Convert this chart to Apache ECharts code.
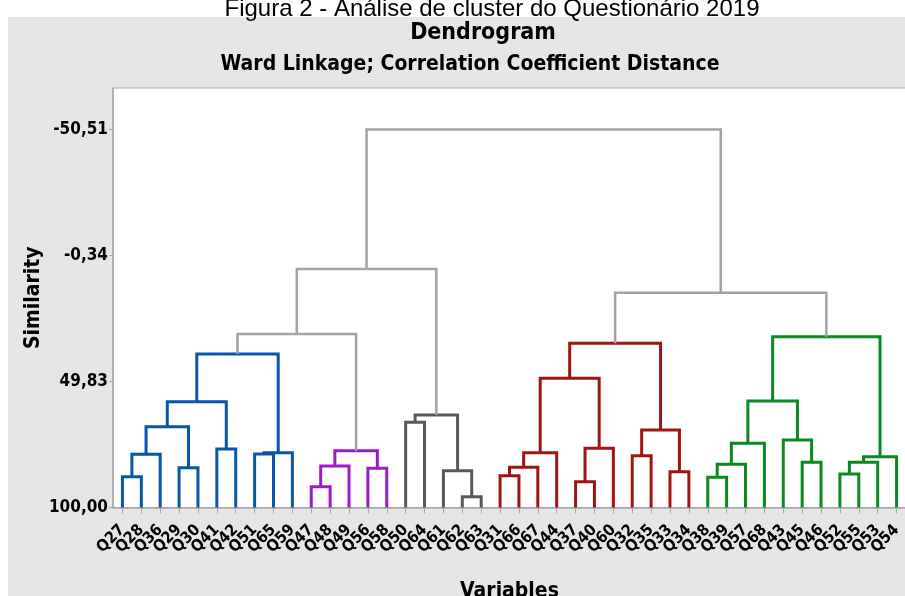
<!DOCTYPE html>
<html><head><meta charset="utf-8">
<script src="https://cdn.jsdelivr.net/npm/echarts@6/dist/echarts.min.js"></script>
<style>html,body{margin:0;padding:0;background:#fff}#c{width:905px;height:596px}</style>
</head><body><div id="c"></div>
<script>
// ---------- data ----------
const variables = ['Q27','Q28','Q36','Q29','Q30','Q41','Q42','Q51','Q65','Q59',
  'Q47','Q48','Q49','Q56','Q58','Q50','Q64','Q61','Q62','Q63',
  'Q31','Q66','Q67','Q44','Q37','Q40','Q60','Q32','Q35','Q33','Q34',
  'Q38','Q39','Q57','Q68','Q43','Q45','Q46','Q52','Q55','Q53','Q54'];
// merge k joins mergeLeft[k] and mergeRight[k]; a string is a variable, a number is an earlier merge
const mergeLeft  = ['Q27',0,'Q29',1,'Q41',3,'Q51',6,5,'Q47',9,'Q56',10,'Q50','Q62','Q61',13,
  'Q31',17,18,'Q37',20,19,'Q32','Q33',23,22,'Q38',27,28,'Q45','Q43',29,'Q52',33,34,32,8,37,26,38];
const mergeRight = ['Q28','Q36','Q30',2,'Q42',4,'Q65','Q59',7,'Q48','Q49','Q58',11,'Q64','Q63',14,15,
  'Q66','Q67','Q44','Q40','Q60',21,'Q35','Q34',24,25,'Q39','Q57','Q68','Q46',30,31,'Q55','Q53','Q54',35,12,16,36,39];
const similarity = [87.74,78.83,84.16,67.84,76.72,57.89,78.71,78.19,38.91,91.72,83.48,84.40,77.40,66.09,95.70,85.35,63.19,
  87.34,84.00,78.19,89.73,76.44,48.58,79.39,85.75,69.16,34.65,87.98,82.81,74.45,82.01,73.14,57.62,86.67,82.01,79.78,32.03,
  30.95,5.08,14.52,-50.51];
const yTicks = [100.00, 49.83, -0.34, -50.51];
const numberOfClusters = 5;

// ---------- styles ----------
const clusterColors = ['#0756A8','#9A1BC9','#595959','#A01414','#0A8A22'];
const linkColor = '#A3A3A3';
const condensed = "'DejaVu Sans Condensed','DejaVu Sans',sans-serif";

// ---------- tree layout (in leaf-index / distance units) ----------
const nM = similarity.length;
const nodeX = [], nodeD = [];
function ref(r){
  if (typeof r === 'string') return {x: variables.indexOf(r), d: 0, m: -1};
  return {x: nodeX[r], d: nodeD[r], m: r};
}
const parent = new Array(nM).fill(-1);
for (let k = 0; k < nM; k++) {
  const a = ref(mergeLeft[k]), b = ref(mergeRight[k]);
  nodeX[k] = (a.x + b.x) / 2;
  nodeD[k] = 100 - similarity[k];
  if (a.m >= 0) parent[a.m] = k;
  if (b.m >= 0) parent[b.m] = k;
}
const order = similarity.map((s,i)=>i).sort((i,j)=>similarity[i]-similarity[j]);
const isLink = new Array(nM).fill(false);
order.slice(0, numberOfClusters - 1).forEach(i => isLink[i] = true);
function rootOf(k){ while (parent[k] >= 0 && !isLink[parent[k]]) k = parent[k]; return k; }
const roots = [];
for (let k = 0; k < nM; k++) if (!isLink[k]) { const r = rootOf(k); if (roots.indexOf(r) < 0) roots.push(r); }
roots.sort((a,b)=>nodeX[a]-nodeX[b]);
const segData = [];
for (let k = 0; k < nM; k++) {
  const a = ref(mergeLeft[k]), b = ref(mergeRight[k]);
  const c = isLink[k] ? -1 : roots.indexOf(rootOf(k));
  segData.push([a.x, a.d, b.x, b.d, nodeD[k], c]);
}

const tickStep = yTicks[0] - yTicks[1];
const dTop = 167;

const chart = echarts.init(document.getElementById('c'), null, {renderer:'canvas'});
chart.setOption({
  backgroundColor: '#ffffff',
  animation: false,
  graphic: [{type:'rect', left: 8, top: 17, shape:{width: 897, height: 579}, style:{fill:'#E6E6E6'}, z: -10, silent: true}],
  title: [
    {text: 'Figura 2 - Análise de cluster do Questionário 2019', left: 492, textAlign: 'center', top: -3, padding: 0,
     textStyle: {fontFamily: "'Liberation Sans',Arial,sans-serif", fontWeight: 'normal', fontSize: 24, color: '#000'}},
    {text: 'Dendrogram', left: 483, textAlign: 'center', top: 22, padding: 0,
     textStyle: {fontFamily: condensed, fontWeight: 'bold', fontSize: 23, color: '#000'}},
    {text: 'Ward Linkage; Correlation Coefficient Distance', left: 470, textAlign: 'center', top: 54, padding: 0,
     textStyle: {fontFamily: condensed, fontWeight: 'bold', fontSize: 21, color: '#000'}}
  ],
  grid: {left: 113, top: 88, width: 793, height: 419.5, show: true, backgroundColor: '#fff',
         borderColor: '#A8A8A8', borderWidth: 1, outerBoundsMode: 'none', containLabel: false},
  xAxis: [
    {type: 'category', data: variables, boundaryGap: true,
     axisLine: {show: true, onZero: false, lineStyle: {color: '#A8A8A8', width: 1.5}},
     axisTick: {show: true, alignWithLabel: true, length: 6, lineStyle: {color: '#A8A8A8'}},
     axisLabel: {interval: 0, rotate: 45, margin: 20, fontFamily: condensed, fontWeight: 'bold', fontSize: 16, color: '#000'},
     splitLine: {show: false},
     name: 'Variables', nameLocation: 'middle', nameGap: 74, nameMoveOverlap: false,
     nameTextStyle: {fontFamily: condensed, fontWeight: 'bold', fontSize: 21, color: '#000'}},
    {type: 'value', min: -0.5, max: variables.length - 0.5, show: false}
  ],
  yAxis: {type: 'value', min: 0, max: dTop, interval: tickStep,
    axisLine: {show: true, onZero: false, lineStyle: {color: '#A8A8A8', width: 1.5}},
    axisTick: {show: true, length: 4, lineStyle: {color: '#A8A8A8'}},
    splitLine: {show: false},
    axisLabel: {showMaxLabel: false, margin: 5, fontFamily: condensed, fontWeight: 'bold', fontSize: 17, color: '#000',
      formatter: v => {
        const idx = Math.round(v / tickStep);
        if (Math.abs(v - idx * tickStep) > 1e-6 || idx >= yTicks.length) return '';
        return yTicks[idx].toFixed(2).replace('.', ',');
      }},
    name: 'Similarity', nameLocation: 'middle', nameRotate: 90, nameGap: 69, nameMoveOverlap: false,
    nameTextStyle: {fontFamily: condensed, fontWeight: 'bold', fontSize: 21, color: '#000'}},
  series: [{
    type: 'custom', xAxisIndex: 1, yAxisIndex: 0, data: segData,
    encode: {x: [0, 2], y: [1, 3, 4]},
    renderItem: (params, api) => {
      const xl = api.value(0), dl = api.value(1), xr = api.value(2), dr = api.value(3), dt = api.value(4), c = api.value(5);
      const pts = [api.coord([xl, dl]), api.coord([xl, dt]), api.coord([xr, dt]), api.coord([xr, dr])];
      return {type: 'polyline', shape: {points: pts},
        style: {stroke: c < 0 ? linkColor : clusterColors[c], lineWidth: c < 0 ? 2.5 : 3, fill: null, lineJoin: 'miter'}};
    }
  }]
});
</script></body></html>
